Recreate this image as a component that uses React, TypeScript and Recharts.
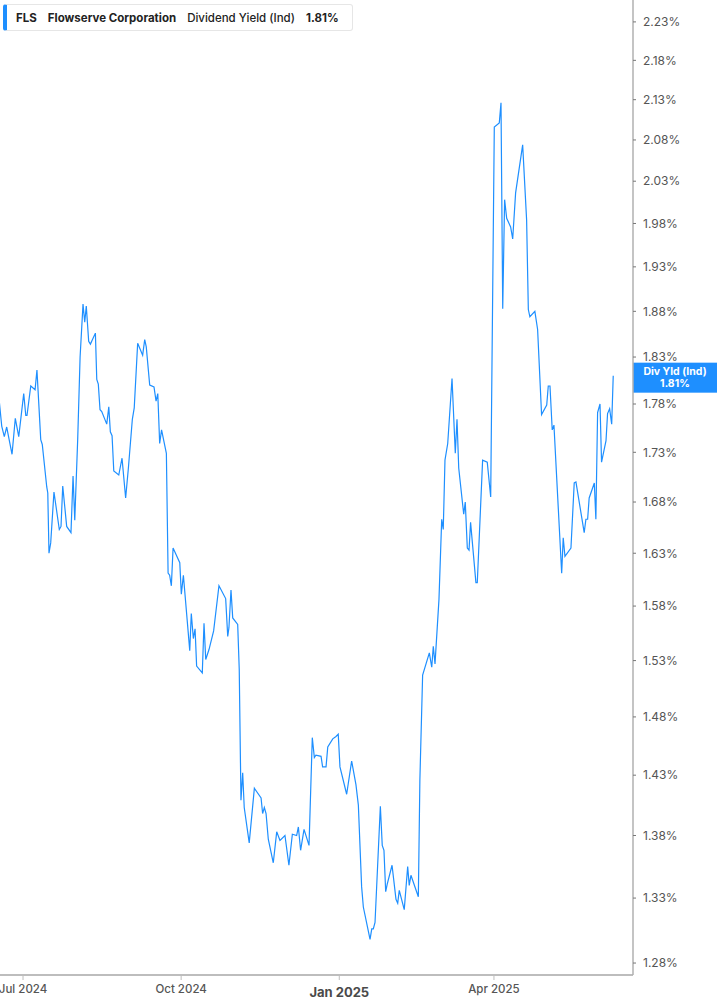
import React from "react";
import { LineChart, Line, XAxis, YAxis, ReferenceLine } from "recharts";

// days since 2024-07-01
const DAY_OFFSETS = [
  -14.2, -12.4, -10.9, -9.5, -6.4, -4.5, -2.5, 0.4, 1.6, 2.3, 4.5, 7.0, 8.1, 10.3, 11.2, 13.8, 14.4, 15.1, 16.1, 18.0,
  21.1, 22.1, 23.1, 25.4, 27.9, 29.1, 30.1, 31.8, 33.2, 34.9, 35.9, 36.8, 38.2, 39.2, 42.1, 42.9, 43.8, 44.8, 45.8, 48.7,
  49.9, 50.8, 51.8, 52.8, 55.7, 57.6, 59.7, 61.3, 63.6, 64.7, 66.7, 69.6, 70.8, 71.7, 73.7, 76.2, 77.4, 78.4, 79.5, 80.6,
  83.4,
  84.4, 85.3, 86.3, 87.3, 91.2, 92.1, 93.3, 97.0, 97.9, 99.1, 100.1, 101.0, 104.3, 105.3, 106.3, 108.2, 110.9, 114.0,
  117.9, 119.1, 119.8, 121.0, 122.0, 124.9, 125.8,
  126.8, 127.8, 128.7, 131.6, 134.6, 138.5, 139.4, 140.4, 141.4, 142.7, 145.6, 147.6, 149.5, 152.4, 154.7, 156.7, 159.2,
  160.2, 161.5, 163.5, 166.4, 168.3, 169.5, 170.4, 173.4, 174.3, 176.3, 177.3, 180.2, 182.1, 183.4, 184.4, 188.3, 191.2,
  193.7,
  195.1, 197.0, 198.0, 201.9, 202.9, 203.8, 204.8, 207.9, 209.0, 210.0, 211.0, 211.9, 214.7, 217.0, 218.0, 218.9, 221.8,
  223.8, 224.7, 225.7, 230.0, 230.9, 232.5,
  236.4, 237.8, 238.7, 239.7, 242.0, 243.6, 244.5, 245.5, 247.1, 249.6, 251.5, 252.5, 253.5, 256.4, 257.3, 258.5, 259.5,
  260.4, 263.5, 264.3, 267.4, 270.1, 272.1,
  274.2, 277.1, 278.1, 279.1, 280.2, 281.4, 283.7, 284.9, 286.6, 290.7, 293.0, 294.0, 294.9,
  297.8, 299.4, 301.7, 304.7, 305.6, 306.6, 307.9, 308.9, 313.4, 314.3, 315.3, 318.8, 320.7, 321.7, 326.5, 327.5, 328.5,
  329.4, 332.4, 333.3, 334.3, 335.7, 336.6, 339.2, 340.1, 341.3, 342.5, 343.4,
];

// dividend yield, %
const DIV_YIELD = [
  1.79, 1.757, 1.746, 1.756, 1.728, 1.765, 1.746, 1.791, 1.768, 1.768, 1.799, 1.795, 1.816, 1.743, 1.738, 1.695, 1.689,
  1.63, 1.64, 1.69, 1.653, 1.656, 1.696, 1.656, 1.65, 1.706, 1.662, 1.743, 1.83, 1.888, 1.868, 1.886, 1.847, 1.844, 1.856,
  1.806, 1.801, 1.774, 1.772, 1.759, 1.777, 1.751, 1.747, 1.711, 1.707, 1.724, 1.684, 1.714, 1.764, 1.776, 1.845, 1.832,
  1.849, 1.841, 1.8, 1.798, 1.783, 1.791, 1.739, 1.753, 1.729,
  1.611, 1.609, 1.599, 1.635, 1.621, 1.591, 1.609, 1.539, 1.573, 1.55, 1.559, 1.525, 1.519, 1.564, 1.531, 1.54, 1.557,
  1.599, 1.587, 1.552, 1.56, 1.595, 1.569, 1.563, 1.522,
  1.409, 1.432, 1.403, 1.374, 1.419, 1.411, 1.398, 1.403, 1.398, 1.377, 1.358, 1.383, 1.376, 1.38, 1.356, 1.381, 1.38,
  1.387, 1.368, 1.385, 1.372, 1.462, 1.445, 1.447, 1.446, 1.437, 1.437, 1.454, 1.461, 1.463, 1.465, 1.437, 1.414, 1.442,
  1.422,
  1.405, 1.339, 1.323, 1.298, 1.306, 1.306, 1.311, 1.404, 1.372, 1.368, 1.335, 1.341, 1.356, 1.329, 1.326, 1.336, 1.321,
  1.355, 1.34, 1.348, 1.331, 1.426, 1.517,
  1.537, 1.524, 1.543, 1.527, 1.586, 1.663, 1.653, 1.722, 1.739, 1.807, 1.729, 1.764, 1.714, 1.668, 1.68, 1.635, 1.633,
  1.66, 1.602, 1.602, 1.722, 1.72, 1.685,
  2.096, 2.101, 2.126, 1.883, 2.008, 1.986, 1.976, 1.962, 2.016, 2.074, 1.984, 1.882, 1.874,
  1.88, 1.86, 1.769, 1.779, 1.799, 1.799, 1.753, 1.758, 1.611, 1.645, 1.627, 1.635, 1.699, 1.7, 1.65, 1.663, 1.663, 1.684,
  1.699, 1.663, 1.771, 1.78, 1.72, 1.742, 1.77, 1.775, 1.759, 1.81,
];

const X_TICKS = [0, 92, 184, 274];
const X_TICK_LABELS = ["Jul 2024", "Oct 2024", "Jan 2025", "Apr 2025"];
const Y_TICKS = [
  1.28, 1.33, 1.38, 1.43, 1.48, 1.53, 1.58, 1.63, 1.68, 1.73, 1.78, 1.83, 1.88, 1.93, 1.98, 2.03, 2.08, 2.13, 2.18, 2.23,
];
const TICKER = "FLS";
const COMPANY = "Flowserve Corporation";
const METRIC = "Dividend Yield (Ind)";
const TAG_NAME = "Div Yld (Ind)";
const LAST_VALUE = 1.81;

const BLUE = "#1e8fff";
const FONT = "Inter, Roboto, 'Noto Sans', sans-serif";

const data = DAY_OFFSETS.map((d, i) => ({ day: d, yld: DIV_YIELD[i] }));

function XTick(props: any) {
  const { x, y, payload } = props;
  const label = X_TICK_LABELS[X_TICKS.indexOf(payload.value)];
  const major = label.startsWith("Jan");
  return (
    <text
      x={x}
      y={y}
      dy={major ? 15 : 11}
      textAnchor="middle"
      fill={major ? "#4a4a4a" : "#555"}
      fontSize={major ? 13 : 11.5}
      fontWeight={major ? 700 : 500}
      fontFamily={FONT}
    >
      {label}
    </text>
  );
}

function LastTag(props: any) {
  const { viewBox } = props;
  if (!viewBox) return null;
  const x = viewBox.x + viewBox.width;
  const y = viewBox.y;
  return (
    <g>
      <rect x={x} y={y - 13} width={84} height={30} fill={BLUE} />
      <text x={x + 42} y={y - 0.5} textAnchor="middle" fill="#fff" fontSize={10.5} fontWeight={700} fontFamily={FONT}>
        {TAG_NAME}
      </text>
      <text x={x + 42} y={y + 11.5} textAnchor="middle" fill="#fff" fontSize={10.5} fontWeight={700} fontFamily={FONT}>
        {LAST_VALUE.toFixed(2)}%
      </text>
    </g>
  );
}

export default function App() {
  return (
    <div
      style={{
        position: "absolute",
        left: 0,
        top: 0,
        width: 717,
        height: 1005,
        background: "#fff",
        fontFamily: FONT,
        overflow: "hidden",
      }}
    >
      <LineChart width={717} height={1005} data={data} margin={{ top: 0, right: 0, bottom: 0, left: 0 }}>
        <XAxis
          dataKey="day"
          type="number"
          domain={[-13.4, 354.9]}
          allowDataOverflow
          ticks={X_TICKS}
          tick={<XTick />}
          height={30}
          tickSize={5}
          axisLine={{ stroke: "#bdbdbd", strokeWidth: 2 }}
          tickLine={{ stroke: "#bdbdbd" }}
        />
        <YAxis
          orientation="right"
          scale="log"
          domain={[1.271, 2.259]}
          allowDataOverflow
          ticks={Y_TICKS}
          tickFormatter={(v: number) => `${v.toFixed(2)}%`}
          width={84}
          tickSize={3}
          tickMargin={7}
          tick={{ fill: "#555", fontSize: 12, fontFamily: FONT }}
          axisLine={{ stroke: "#b0b0b0", strokeWidth: 1.5 }}
          tickLine={{ stroke: "#777" }}
        />
        <Line
          type="linear"
          dataKey="yld"
          stroke={BLUE}
          strokeWidth={1.2}
          dot={false}
          activeDot={false}
          isAnimationActive={false}
        />
        <ReferenceLine y={LAST_VALUE} stroke="none" label={<LastTag />} />
      </LineChart>

      <div
        style={{
          position: "absolute",
          left: 3,
          top: 4,
          height: 25,
          display: "flex",
          alignItems: "center",
          gap: 11,
          padding: "0 13px 0 9px",
          background: "#fff",
          border: "1px solid #e6e6e6",
          borderLeft: `4px solid ${BLUE}`,
          borderRadius: 3,
          fontSize: 11.5,
          color: "#222",
          whiteSpace: "nowrap",
        }}
      >
        <span style={{ fontWeight: 700 }}>{TICKER}</span>
        <span style={{ fontWeight: 700 }}>{COMPANY}</span>
        <span style={{ fontWeight: 500 }}>{METRIC}</span>
        <span style={{ fontWeight: 700 }}>{LAST_VALUE.toFixed(2)}%</span>
      </div>
    </div>
  );
}
